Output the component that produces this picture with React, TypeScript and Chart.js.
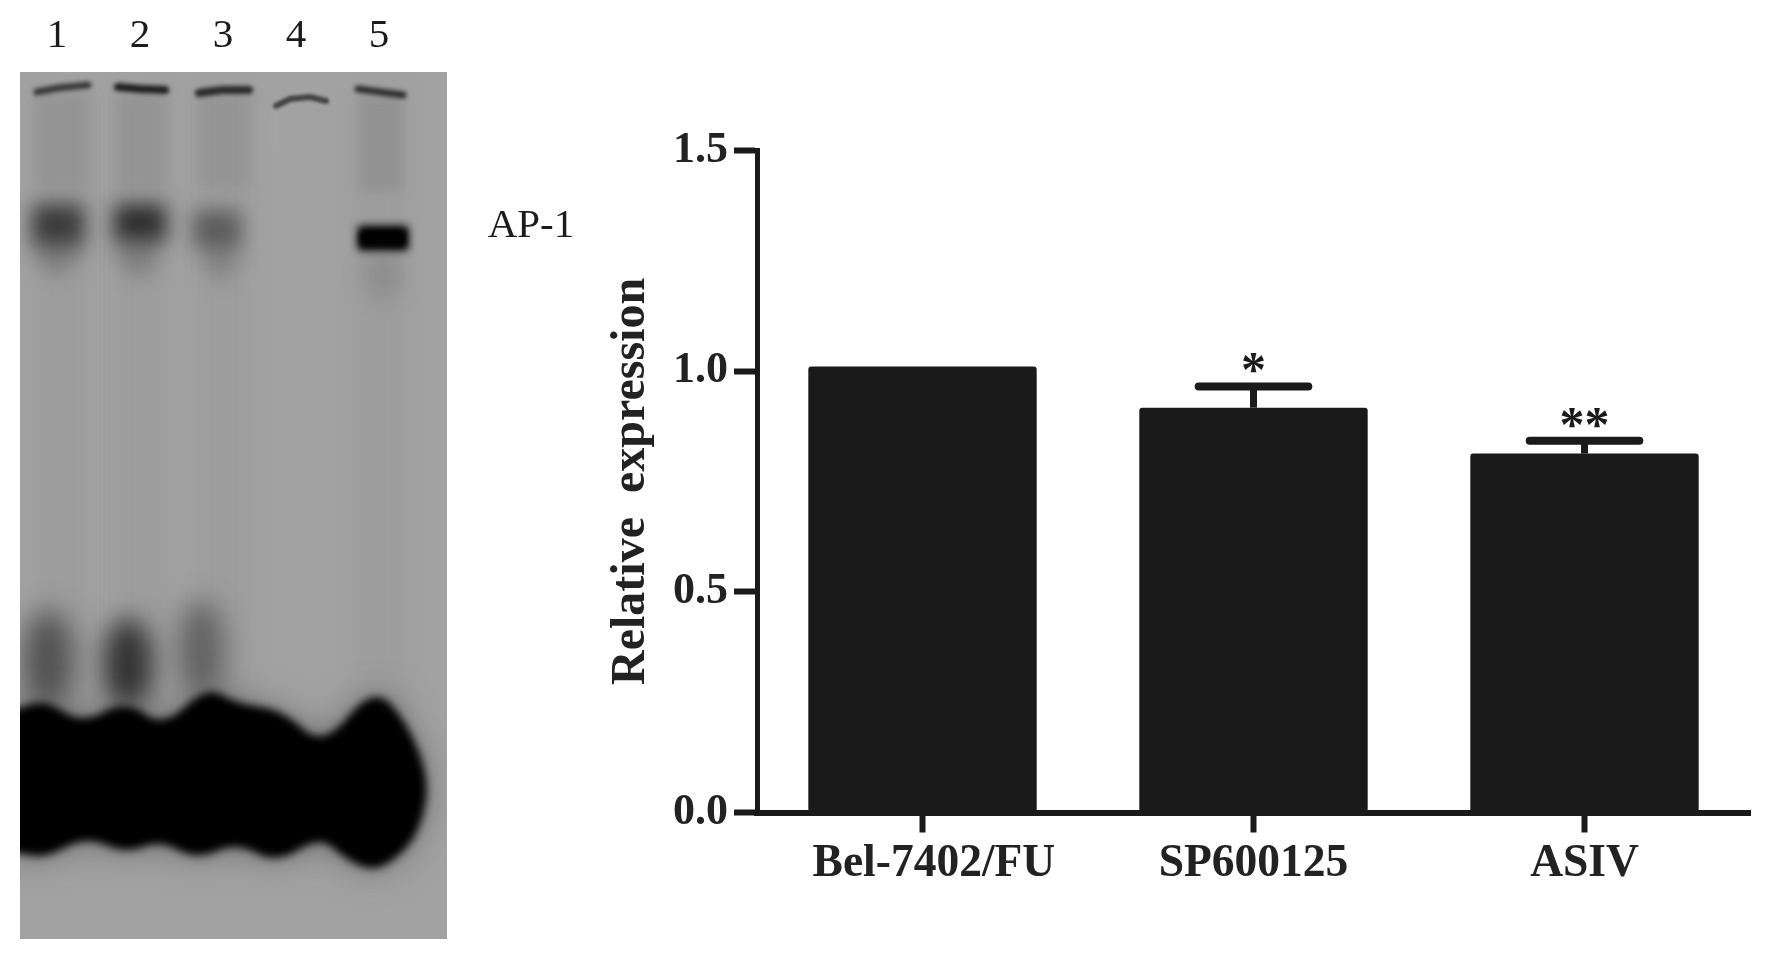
import React, { useEffect, useRef } from "react";
import { Chart, registerables } from "chart.js";

Chart.register(...registerables);

// ---- data ----
const categories = ["Bel-7402/FU", "SP600125", "ASIV"];
const relativeExpression = [1.01, 0.917, 0.813];
const errorTops = [null, 0.965, 0.842];
const significance = ["", "*", "**"];
const yTickValues = [0, 0.5, 1.0, 1.5];
const laneLabels = ["1", "2", "3", "4", "5"];
const laneLabelCentres = [57, 140, 223, 296, 379];
const bandLabel = "AP-1";

const INK = "#1a1a1a";
const SERIF = '"Liberation Serif", serif';

const blob: [number, number][] = [
  [0, 712], [20, 708], [46, 700], [82, 724], [126, 700], [163, 728], [207, 686], [237, 704], [283, 710],
  [323, 748], [373, 686], [406, 720], [430, 780], [420, 830], [400, 856], [373, 872], [344, 858], [320, 836],
  [276, 864], [237, 842], [197, 860], [159, 840], [126, 854], [86, 836], [46, 858], [20, 853], [0, 853],
];

function paintGel(ctx: CanvasRenderingContext2D) {
  const X = 20, Y = 72, W = 427, H = 867;
  ctx.save();
  ctx.beginPath();
  ctx.rect(X, Y, W, H);
  ctx.clip();
  ctx.fillStyle = "#a2a2a2";
  ctx.fillRect(X, Y, W, H);

  const oval = (cx: number, cy: number, rx: number, ry: number, color: string, blur: number) => {
    ctx.filter = `blur(${blur}px)`;
    ctx.fillStyle = color;
    ctx.beginPath();
    ctx.ellipse(cx, cy, rx, ry, 0, 0, Math.PI * 2);
    ctx.fill();
    ctx.filter = "none";
  };
  const box = (x: number, y: number, w: number, h: number, color: string, blur: number) => {
    ctx.filter = `blur(${blur}px)`;
    ctx.fillStyle = color;
    ctx.fillRect(x, y, w, h);
    ctx.filter = "none";
  };
  const stroke = (pts: number[][], w: number, color: string, blur: number) => {
    ctx.filter = `blur(${blur}px)`;
    ctx.strokeStyle = color;
    ctx.lineWidth = w;
    ctx.lineCap = "round";
    ctx.beginPath();
    pts.forEach((p, i) => (i ? ctx.lineTo(p[0], p[1]) : ctx.moveTo(p[0], p[1])));
    ctx.stroke();
    ctx.filter = "none";
  };

  // faint lane smears
  box(34, 90, 56, 640, "rgba(120,120,120,0.13)", 10);
  box(115, 90, 52, 640, "rgba(120,120,120,0.13)", 10);
  box(197, 90, 54, 640, "rgba(120,120,120,0.1)", 10);
  box(356, 90, 50, 620, "rgba(120,120,120,0.1)", 10);
  box(34, 92, 56, 95, "rgba(110,110,110,0.18)", 6);
  box(115, 92, 52, 95, "rgba(110,110,110,0.18)", 6);
  box(197, 92, 54, 95, "rgba(110,110,110,0.18)", 6);
  box(358, 96, 46, 95, "rgba(105,105,105,0.2)", 6);

  // wells at the top
  stroke([[37, 92], [58, 88], [88, 85]], 7, "#3a3a3a", 2);
  stroke([[118, 87], [140, 89], [165, 90]], 8, "#202020", 2);
  stroke([[199, 93], [222, 90], [249, 90]], 8, "#2a2a2a", 2);
  stroke([[276, 106], [290, 99], [310, 97], [326, 101]], 6, "#444", 1.6);
  stroke([[358, 89], [380, 92], [403, 95]], 7, "#303030", 2);
  stroke([[276, 110], [273, 130], [277, 148]], 4, "rgba(175,175,175,0.5)", 3);

  // AP-1 band
  box(32, 204, 52, 42, "rgba(35,35,35,0.8)", 10);
  box(114, 204, 52, 38, "rgba(25,25,25,0.84)", 10);
  box(193, 210, 48, 38, "rgba(50,50,50,0.6)", 10);
  oval(57, 254, 20, 20, "rgba(70,70,70,0.35)", 10);
  oval(138, 254, 20, 22, "rgba(70,70,70,0.35)", 10);
  oval(220, 259, 17, 20, "rgba(70,70,70,0.3)", 10);
  box(358, 226, 50, 24, "#000", 5);
  box(360, 230, 46, 17, "#000", 3);
  oval(383, 275, 20, 26, "rgba(90,90,90,0.22)", 10);

  // lower smudges
  oval(48, 660, 26, 50, "rgba(35,35,35,0.62)", 14);
  oval(128, 664, 25, 46, "rgba(20,20,20,0.78)", 13);
  oval(201, 650, 23, 50, "rgba(40,40,40,0.52)", 14);

  // free-probe mass
  const trace = () => {
    ctx.beginPath();
    const n = blob.length;
    ctx.moveTo(blob[0][0], blob[0][1]);
    for (let i = 1; i < n - 1; i++) {
      const mx = (blob[i][0] + blob[i + 1][0]) / 2;
      const my = (blob[i][1] + blob[i + 1][1]) / 2;
      ctx.quadraticCurveTo(blob[i][0], blob[i][1], mx, my);
    }
    ctx.lineTo(blob[n - 1][0], blob[n - 1][1]);
    ctx.closePath();
  };
  ctx.filter = "blur(18px)";
  ctx.fillStyle = "rgba(70,70,70,0.6)";
  trace();
  ctx.fill();
  ctx.filter = "blur(4px)";
  ctx.fillStyle = "#000";
  trace();
  ctx.fill();
  ctx.filter = "none";
  ctx.restore();
}

const decorations = {
  id: "errorBarsAndStars",
  afterDatasetsDraw(chart: any) {
    const { ctx, scales } = chart;
    const meta = chart.getDatasetMeta(0);
    ctx.save();
    errorTops.forEach((top, i) => {
      if (top === null) return;
      const bar = meta.data[i];
      const x = bar.x;
      const yTop = scales.y.getPixelForValue(top);
      ctx.strokeStyle = INK;
      ctx.lineCap = "butt";
      ctx.lineWidth = 7;
      ctx.beginPath();
      ctx.moveTo(x, bar.y);
      ctx.lineTo(x, yTop);
      ctx.stroke();
      ctx.lineCap = "round";
      ctx.lineWidth = 8;
      ctx.beginPath();
      ctx.moveTo(x - bar.width * 0.24, yTop);
      ctx.lineTo(x + bar.width * 0.24, yTop);
      ctx.stroke();
      ctx.fillStyle = INK;
      ctx.font = `bold 50px ${SERIF}`;
      ctx.textAlign = "center";
      ctx.textBaseline = "alphabetic";
      ctx.fillText(significance[i], x, yTop);
    });
    ctx.restore();
  },
};

export default function App() {
  const gelRef = useRef<HTMLCanvasElement>(null);
  const chartRef = useRef<HTMLCanvasElement>(null);

  useEffect(() => {
    const gctx = gelRef.current!.getContext("2d")!;
    paintGel(gctx);

    const tickFont = (size: number) => ({ family: SERIF, size, weight: "bold" as const });
    const chart = new Chart(chartRef.current!, {
      type: "bar",
      data: {
        labels: categories,
        datasets: [
          {
            data: relativeExpression,
            backgroundColor: INK,
            borderRadius: 3,
            borderSkipped: false,
            barPercentage: 0.69,
            categoryPercentage: 1,
          },
        ],
      },
      plugins: [decorations],
      options: {
        animation: false,
        responsive: false,
        layout: { padding: { left: 603, top: 150.3, right: 22, bottom: 0 } },
        plugins: { legend: { display: false }, tooltip: { enabled: false }, title: { display: false } },
        scales: {
          x: {
            offset: true,
            grid: { display: true, offset: false, drawOnChartArea: false, drawTicks: true, tickLength: 20, tickWidth: 6, tickColor: INK },
            border: { display: true, color: INK, width: 6 },
            ticks: {
              font: tickFont(45.5),
              color: "#222",
              padding: 4,
              maxRotation: 0,
              autoSkip: false,
              // the first label sits a little right of its tick in the original
              callback: (_v: any, i: number) => (i === 0 ? "  " : "") + categories[i],
            },
            afterFit(s: any) { s.height = 147.5; },
          },
          y: {
            min: 0,
            max: 1.5,
            afterBuildTicks(s: any) { s.ticks = yTickValues.map((value) => ({ value })); },
            grid: { display: true, drawOnChartArea: false, drawTicks: true, tickLength: 23, tickWidth: 6, tickColor: INK },
            border: { display: true, color: INK, width: 5 },
            ticks: { font: tickFont(44), color: "#222", padding: 6, callback: (v: any) => Number(v).toFixed(1) },
            title: {
              display: true,
              text: "Relative  expression",
              font: tickFont(48),
              color: "#222",
              padding: 0,
            },
            afterFit(s: any) { s.width = 154; },
          },
        },
      },
    } as any);
    return () => chart.destroy();
  }, []);

  const text: React.CSSProperties = {
    position: "absolute",
    fontFamily: SERIF,
    fontSize: 41,
    lineHeight: "46px",
    color: "#1c1c1c",
    transform: "translateX(-50%)",
    whiteSpace: "nowrap",
  };

  return (
    <div style={{ position: "fixed", left: 0, top: 0, width: 1772, height: 960, background: "#fff", overflow: "hidden" }}>
      <canvas ref={gelRef} width={1772} height={960} style={{ position: "absolute", left: 0, top: 0 }} />
      <canvas ref={chartRef} width={1772} height={960} style={{ position: "absolute", left: 0, top: 0 }} />
      {laneLabels.map((l, i) => (
        <span key={l} style={{ ...text, left: laneLabelCentres[i], top: 10 }}>{l}</span>
      ))}
      <span style={{ ...text, left: 531, top: 200 }}>{bandLabel}</span>
    </div>
  );
}
